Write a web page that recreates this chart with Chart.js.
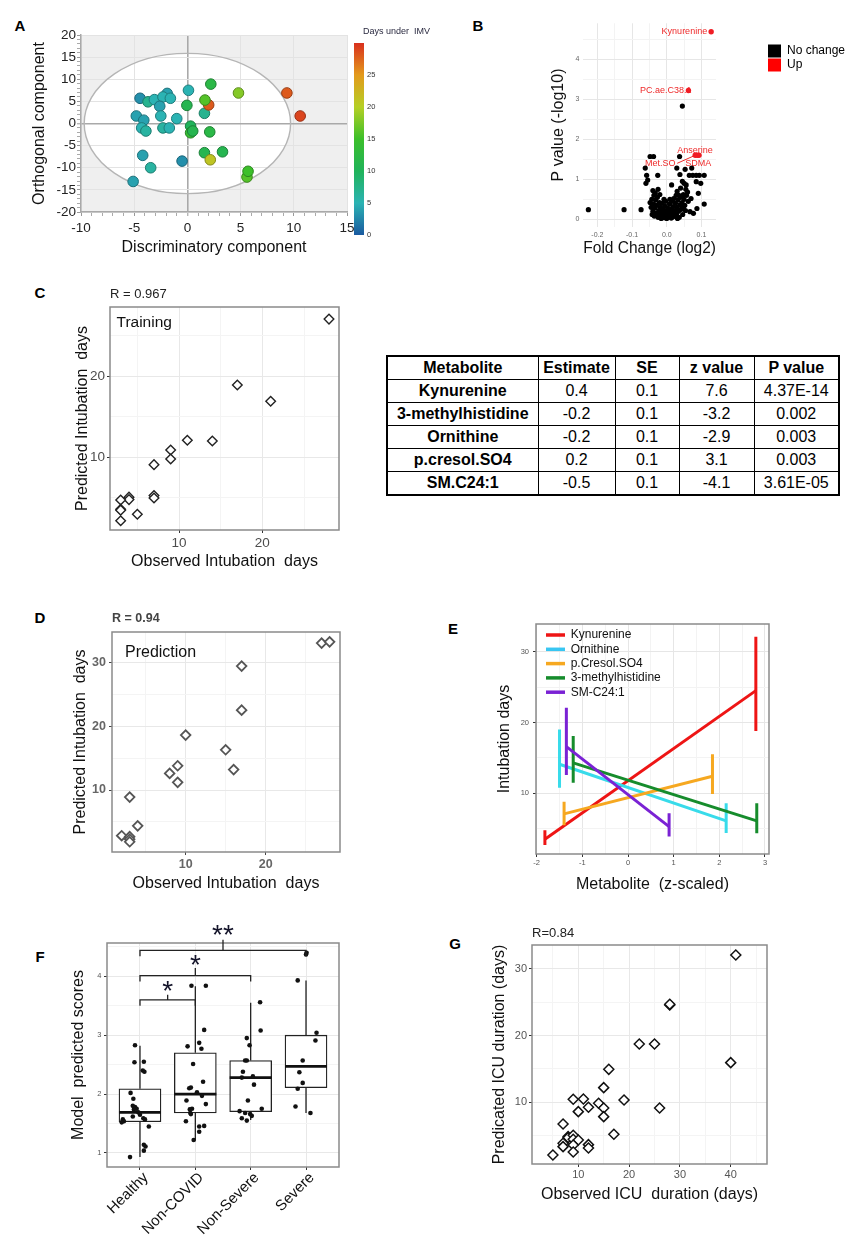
<!DOCTYPE html>
<html><head><meta charset="utf-8">
<script src="https://cdn.jsdelivr.net/npm/chart.js@4.4.1/dist/chart.umd.min.js"></script>
<style>
html,body{margin:0;padding:0;background:#fff}
body{position:relative;width:864px;height:1259px;overflow:hidden;font-family:"Liberation Sans",Arial,sans-serif}
canvas{position:absolute}
.pl{position:absolute;font-weight:bold;font-size:15px;line-height:1;transform:translate(-50%,-50%);color:#000}
#tbl{position:absolute;left:386px;top:355px;width:452px;height:136px;border-collapse:collapse;font-size:16px;color:#000;table-layout:fixed;border:2px solid #000}
#tbl td,#tbl th{border:1px solid #000;padding:0;text-align:center;height:22px;white-space:nowrap;line-height:1}
#tbl th{font-weight:bold}
#tbl td:first-child{font-weight:bold}
</style></head><body>
<div class="pl" style="left:20px;top:25px">A</div>
<div class="pl" style="left:478px;top:25px">B</div>
<div class="pl" style="left:40px;top:292px">C</div>
<div class="pl" style="left:40px;top:617px">D</div>
<div class="pl" style="left:453px;top:628px">E</div>
<div class="pl" style="left:40px;top:956px">F</div>
<div class="pl" style="left:455px;top:943px">G</div>
<table id="tbl"><colgroup><col style="width:151px"><col style="width:77px"><col style="width:64px"><col style="width:75px"><col style="width:85px"></colgroup><tbody id="tb"></tbody></table>
<script>
// ================= DATA =================
// A: OPLS-DA scores
const pcaX = [-4.45,-3.7,-3.1,-1.9,-2.3,-1.6,-2.6,-2.5,-1.0,-4.8,-4.1,-4.3,-3.9,-2.3,-1.7,-4.2,-3.45,-5.1,-0.5,0.1,-0.05,0.3,0.3,0.5,1.6,2.0,1.65,2.2,2.1,1.6,2.15,3.3,4.8,5.6,5.7,9.35,10.6];
const pcaY = [5.7,4.9,5.4,6.8,6.0,5.7,3.9,1.7,1.1,1.7,0.75,-1.0,-1.7,-1.0,-1.0,-7.2,-10.0,-13.1,-8.5,7.5,4.1,-0.6,-2.1,-1.7,2.3,4.2,5.3,8.9,-1.9,-6.6,-8.2,-6.4,6.9,-12.1,-10.8,6.9,1.7];
const pcaDays = [3,7,5,4,5,5,4,5,5,4,4,5,6,6,5,4,6,4,3,5,11,10,14,11,7,28,16,12,12,11,21,11,18,16,15,28,29];
const pcaEllipseA = 9.7, pcaEllipseB = 15.85;
const pcaXTicks = [-10,-5,0,5,10,15];
const pcaYTicks = [-20,-15,-10,-5,0,5,10,15,20];
const imvTicks = [0,5,10,15,20,25];
const imvMax = 30;

// B: volcano
const volNoX = [-0.226,-0.123,-0.074,-0.048,-0.038,0.037,-0.062,0.029,0.072,0.053,-0.058,-0.026,0.038,0.065,0.075,0.085,0.094,0.108,-0.055,-0.06,0.098,0.085,0.014,0.05,0.056,0.045,0.091,-0.04,-0.033,-0.037,-0.025,0.04,0.03,0.055,0.048,0.06,0.035,-0.02,0.108,0.087,0.067,0.077,0.062,0.07,0.045,
 -0.048,-0.045,-0.043,-0.04,-0.038,-0.036,-0.034,-0.032,-0.03,-0.028,-0.027,-0.025,-0.023,-0.021,-0.019,-0.018,-0.016,-0.015,-0.013,-0.012,-0.01,-0.008,-0.006,-0.005,-0.003,-0.001,0,0.002,0.003,0.005,0.007,0.008,0.01,0.012,0.013,0.015,0.016,0.018,0.02,0.021,0.023,0.025,0.027,0.028,0.03,0.032,0.034,0.036,0.038,0.04,0.042,0.044,0.046,0.048,0.05,0.052,0.054,0.057,-0.042,-0.02,0,0.009,-0.008,0.031,0.017,-0.003];
const volNoY = [0.24,0.24,0.24,1.57,1.57,1.57,1.28,1.28,1.28,1.25,1.1,1.1,1.12,1.1,1.1,1.1,1.1,1.1,0.98,0.9,0.9,0.94,0.86,0.9,0.86,0.95,0.65,0.72,0.66,0.6,0.75,0.78,0.7,0.75,0.62,0.68,0.6,0.62,0.38,0.27,0.19,0.15,0.45,0.52,2.83,
 0.42,0.3,0.5,0.2,0.38,0.08,0.28,0.48,0.15,0.35,0.55,0.05,0.22,0.42,0.12,0.3,0.02,0.18,0.4,0.08,0.26,0.14,0.04,0.33,0.1,0.2,0.02,0.12,0.28,0.06,0.18,0.38,0.1,0.25,0.03,0.45,0.15,0.32,0.52,0.08,0.22,0.4,0.6,0.12,0.3,0.48,0.2,0.05,0.36,0.55,0.25,0.42,0.12,0.3,0.5,0.35,0.22,0.6,0.12,0.06,0.16,0.5,0.5,0.02,0.06,0.45];
const volUpNames = ['Kynurenine','PC.ae.C38.1','Anserine','Met.SO','SDMA'];
const volUpX = [0.128,0.0625,0.093,0.082,0.088];
const volUpY = [4.69,3.22,1.60,1.60,1.60];
const volXTicks = [-0.2,-0.1,0,0.1];
const volYTicks = [0,1,2,3,4];
const volLegend = ['No change','Up'];

// C: training
const trainObs = [28,17,21,11,14,9,9,7,7,7,5,4,4,3,3,3,3];
const trainPred = [27.0,18.9,16.9,12.1,12.0,10.9,9.8,9.1,5.3,5.0,3.0,5.1,4.8,4.75,3.6,3.5,2.2];
const trainTicks = [10,20];

// Table
const tableHead = ['Metabolite','Estimate','SE','z value','P value'];
const tableMetab = ['Kynurenine','3-methylhistidine','Ornithine','p.cresol.SO4','SM.C24:1'];
const tableEst = ['0.4','-0.2','-0.2','0.2','-0.5'];
const tableSE = ['0.1','0.1','0.1','0.1','0.1'];
const tableZ = ['7.6','-3.2','-2.9','3.1','-4.1'];
const tableP = ['4.37E-14','0.002','0.003','0.003','3.61E-05'];

// D: prediction
const predObs = [27,28,17,17,10,15,16,9,8,9,3,4,2,3,3,3];
const predPred = [33.0,33.2,29.4,22.5,18.6,16.3,13.2,13.8,12.6,11.2,8.9,4.4,2.85,2.7,2.3,1.9];
const predXTicks = [10,20];
const predYTicks = [10,20,30];

// E: effects
const eNames = ['Kynurenine','Ornithine','p.Cresol.SO4','3-methylhistidine','SM-C24:1'];
const eX0 = [-1.82,-1.5,-1.4,-1.2,-1.35];
const eX1 = [2.8,2.15,1.85,2.82,0.9];
const eY0 = [3.5,14.1,7.1,14.3,16.6];
const eY1 = [24.5,6.1,12.4,6.1,5.3];
const eLo0 = [2.7,10.8,5.5,11.5,12.6];
const eHi0 = [4.8,19.0,8.8,18.1,22.1];
const eLo1 = [18.8,4.4,9.9,4.35,3.9];
const eHi1 = [32.1,8.6,15.5,8.6,7.2];
const eXTicks = [-2,-1,0,1,2,3];
const eYTicks = [10,20,30];

// F: boxplots
const fCats = ['Healthy','Non-COVID','Non-Severe','Severe'];
const fQ1 = [1.53,1.68,1.70,2.11];
const fMed = [1.69,2.00,2.28,2.47];
const fQ3 = [2.09,2.70,2.57,3.00];
const fLo = [0.93,1.21,1.56,1.68];
const fHi = [2.82,3.83,3.55,3.93];
const fJitHealthy = [-0.09,-0.10,0.07,0.05,0.08,-0.17,-0.12,-0.13,-0.09,-0.06,-0.11,-0.03,0.0,-0.31,-0.29,-0.33,-0.13,0.06,0.09,0.16,0.07,0.10,0.07,-0.18];
const fValHealthy = [2.83,2.54,2.55,2.40,2.38,2.02,1.92,1.80,1.78,1.75,1.74,1.69,1.65,1.57,1.54,1.52,1.62,1.59,1.57,1.45,1.14,1.11,1.04,0.93];
const fJitNonCovid = [-0.07,0.19,0.16,0.07,0.11,-0.14,-0.04,0.14,-0.11,-0.08,0.03,0.12,-0.16,0.19,-0.10,-0.06,-0.09,-0.08,-0.17,0.07,0.16,0.07,-0.03];
const fValNonCovid = [3.84,3.84,3.09,2.87,2.77,2.81,2.51,2.21,2.10,2.11,2.03,1.97,1.89,1.83,1.74,1.75,1.68,1.66,1.54,1.45,1.46,1.36,1.22];
const fJitNonSevere = [0.17,0.18,-0.07,-0.02,-0.10,-0.07,-0.14,0.04,-0.16,0.06,-0.05,0.20,-0.20,-0.10,-0.01,0.02,-0.16,-0.07];
const fValNonSevere = [3.56,3.08,2.95,2.83,2.57,2.57,2.38,2.30,2.28,2.16,1.89,1.75,1.71,1.68,1.66,1.63,1.59,1.55];
const fJitSevere = [0.01,0.0,-0.15,0.19,0.17,-0.06,-0.12,-0.06,-0.15,-0.19,0.08];
const fValSevere = [4.40,4.37,3.93,3.04,2.91,2.57,2.37,2.19,2.09,1.79,1.68];
const fBrFrom = [0,0,0];
const fBrTo = [1,2,3];
const fBrY = [3.60,4.01,4.44];
const fBrLabel = ['*','*','**'];
const fYTicks = [1,2,3,4];

// G: ICU duration
const gObs = [41,28,28,22,25,40,16,15,19,9,11,14,12,15,26,10,15,7,17,8,8,9,9,10,7,7,9,12,12,9,5];
const gPred = [32.1,24.6,24.7,18.75,18.75,15.95,14.95,12.2,10.35,10.45,10.5,9.85,9.25,9.15,9.15,8.6,7.85,6.75,5.2,4.85,4.7,5.05,4.45,4.35,3.85,3.35,3.6,3.65,3.15,2.55,2.1];
const gXTicks = [10,20,30,40];
const gYTicks = [10,20,30];

// ================= HELPERS =================
const FONT = '"Liberation Sans", Arial, Helvetica, sans-serif';
Chart.defaults.font.family = FONT;
Chart.defaults.color = '#333';
const f = (size, w) => `${w||'normal'} ${size}px ${FONT}`;

function place(rect){
  const c = document.createElement('canvas');
  c.width = rect.w; c.height = rect.h;
  Object.assign(c.style,{left:rect.x+'px',top:rect.y+'px',width:rect.w+'px',height:rect.h+'px'});
  document.body.appendChild(c); return c;
}
function mkScale(axis, rect, area, s){
  const isX = axis === 'x';
  const lh = (s.titleSize||16)*1.2;
  const majors = s.majors, minors = s.minors||[];
  const all = majors.map(v=>({value:v,mn:false})).concat(minors.map(v=>({value:v,mn:true}))).sort((a,b)=>a.value-b.value);
  return {
    type:'linear', position: isX?'bottom':'left', min:s.min, max:s.max, offset:false,
    afterBuildTicks: sc => { sc.ticks = all.map(t=>({value:t.value, mn:t.mn})); },
    afterFit: sc => {
      if (isX) { sc.height = rect.y+rect.h-area.b; sc.paddingLeft=0; sc.paddingRight=0; }
      else { sc.width = area.l-rect.x; sc.paddingTop=0; sc.paddingBottom=0; }
    },
    ticks:{ autoSkip:false, maxRotation:s.rot||0, minRotation:s.rot||0, padding:s.pad, labelOffset:s.labelOffset||0,
      font:{size:s.font, weight:s.fontWeight||'normal'}, color:s.color,
      callback:(v,i,t)=> (t[i]&&t[i].mn) ? '' : (s.labels ? s.labels[majors.indexOf(v)] : (s.fmt ? s.fmt(v) : String(v))) },
    grid:{ offset:false, drawOnChartArea:true, drawTicks:true, tickLength:s.tickLen,
      color: c => { const t=c.tick; if(!t) return s.grid; if(t.mn) return s.gridMinor; if(s.zero && t.value===0) return s.zero; return s.grid; },
      lineWidth: c => (s.zero && c.tick && !c.tick.mn && c.tick.value===0) ? 1.6 : 1,
      tickColor: c => (c.tick && c.tick.mn) ? (s.minorTick||'rgba(0,0,0,0)') : (s.tick||'rgba(0,0,0,0)'),
      tickWidth:1 },
    border:{ display:!!s.border, color:s.border||'#000', width:1.5 },
    title: s.title ? { display:true, text:s.title, font:{size:s.titleSize||16}, color:'#111',
      padding: isX ? {top:0,bottom:rect.y+rect.h-s.titleAt-lh/2} : {top:s.titleAt-rect.x-lh/2,bottom:0} } : {display:false}
  };
}
function mkChart(rect, area, cfg){
  const cv = place(rect);
  cfg.options = cfg.options||{};
  Object.assign(cfg.options,{responsive:false, maintainAspectRatio:false, animation:false, events:[],
    layout:{padding:{left:0, top:area.t-rect.y, right:rect.x+rect.w-area.r, bottom:0}}});
  cfg.options.plugins = Object.assign({legend:{display:false}, tooltip:{enabled:false}}, cfg.options.plugins||{});
  return new Chart(cv, cfg);
}
const framePlugin = (color,w) => ({id:'frame', afterDatasetsDraw(ch){ const a=ch.chartArea,x=ch.ctx; x.save(); x.strokeStyle=color; x.lineWidth=w; x.strokeRect(a.left,a.top,a.right-a.left,a.bottom-a.top); x.restore(); }});
const textPlugin = (rect, items) => ({id:'texts', afterDraw(ch){ const x=ch.ctx; items.forEach(it=>{ x.save(); x.font=it.font; x.fillStyle=it.color||'#111'; x.textAlign=it.align||'left'; x.textBaseline=it.base||'middle'; x.fillText(it.text,it.x-rect.x,it.y-rect.y); x.restore(); }); }});
const pts = (xs, ys) => xs.map((x,i)=>({x, y:ys[i]}));

// colour map for days under IMV
const cmapStops = [[0,[26,90,160]],[5,[43,179,179]],[10,[32,179,90]],[15,[60,191,42]],[20,[181,207,37]],[25,[227,154,28]],[30,[217,48,30]]];
function cmap(d){ const s=cmapStops; for(let i=0;i<s.length-1;i++){ if(d<=s[i+1][0]){ const t=(d-s[i][0])/(s[i+1][0]-s[i][0]); return s[i][1].map((v,k)=>Math.round(v+(s[i+1][1][k]-v)*t)); } } return s[s.length-1][1]; }
const rgb = (c,k) => { k=k||1; return `rgb(${Math.round(c[0]*k)},${Math.round(c[1]*k)},${Math.round(c[2]*k)})`; };

// ================= TABLE =================
(function(){
  const tb = document.getElementById('tb');
  let h = '<tr>'+tableHead.map(t=>`<th>${t}</th>`).join('')+'</tr>';
  tableMetab.forEach((m,i)=>{ h += `<tr><td>${m}</td><td>${tableEst[i]}</td><td>${tableSE[i]}</td><td>${tableZ[i]}</td><td>${tableP[i]}</td></tr>`; });
  tb.innerHTML = h;
})();

// ================= PANEL A =================
(function(){
  const r={x:0,y:0,w:440,h:262}, a={l:81,t:35,r:347,b:212};
  const cols = pcaDays.map(cmap);
  const xMinor=[], yMinor=[];
  for(let v=-10; v<=15; v++) if(v%5) xMinor.push(v);
  for(let v=-20; v<=20; v++) if(v%5) yMinor.push(v);
  mkChart(r,a,{type:'scatter',
    data:{datasets:[{data:pts(pcaX,pcaY), backgroundColor:cols.map(c=>rgb(c)), borderColor:cols.map(c=>rgb(c,0.7)), borderWidth:1, pointRadius:5.3}]},
    options:{scales:{
      x: mkScale('x',r,a,{min:-10,max:15,majors:pcaXTicks,minors:xMinor,font:13.5,color:'#222',pad:4,tickLen:4,grid:'#e3e3e3',gridMinor:'rgba(0,0,0,0)',zero:'#a9a9a9',tick:'#999',minorTick:'#aaa',border:'#a9a9a9',title:'Discriminatory component',titleSize:16,titleAt:248}),
      y: mkScale('y',r,a,{min:-20,max:20,majors:pcaYTicks,minors:yMinor,font:13.5,color:'#222',pad:1,tickLen:4,grid:'#e3e3e3',gridMinor:'rgba(0,0,0,0)',zero:'#a9a9a9',tick:'#999',minorTick:'#aaa',border:'#a9a9a9',title:'Orthogonal component',titleSize:16,titleAt:40})
    }},
    plugins:[{id:'pcabg',
      beforeDraw(ch){ const {ctx,chartArea:ca,scales:{x,y}}=ch; ctx.save(); ctx.fillStyle='#efefef'; ctx.fillRect(ca.left,ca.top,ca.right-ca.left,ca.bottom-ca.top);
        const cx=x.getPixelForValue(0), cy=y.getPixelForValue(0); const rx=Math.abs(x.getPixelForValue(pcaEllipseA)-cx), ry=Math.abs(y.getPixelForValue(pcaEllipseB)-cy);
        ctx.beginPath(); ctx.ellipse(cx,cy,rx,ry,0,0,2*Math.PI); ctx.fillStyle='#fff'; ctx.fill(); ctx.restore(); },
      beforeDatasetsDraw(ch){ const {ctx,scales:{x,y}}=ch; const cx=x.getPixelForValue(0), cy=y.getPixelForValue(0); const rx=Math.abs(x.getPixelForValue(pcaEllipseA)-cx), ry=Math.abs(y.getPixelForValue(pcaEllipseB)-cy);
        ctx.save(); ctx.beginPath(); ctx.ellipse(cx,cy,rx,ry,0,0,2*Math.PI); ctx.strokeStyle='#b5b5b5'; ctx.lineWidth=1.4; ctx.stroke(); ctx.restore(); },
      afterDraw(ch){ const ctx=ch.ctx; const y0=235, y1=43, x0=354, w=10; const py=v=>y0+(y1-y0)*v/imvMax;
        const g=ctx.createLinearGradient(0,y0,0,y1); cmapStops.forEach(s=>g.addColorStop(s[0]/imvMax, rgb(s[1])));
        ctx.save(); ctx.fillStyle=g; ctx.fillRect(x0,y1,w,y0-y1);
        ctx.fillStyle='#333'; ctx.font=f(7.5); ctx.textBaseline='middle'; ctx.textAlign='left';
        imvTicks.forEach(v=>ctx.fillText(String(v),x0+w+3,py(v)));
        ctx.font=f(9); ctx.fillStyle='#2a2a40'; ctx.fillText('Days under  IMV',363,32); ctx.restore(); }
    }]
  });
})();

// ================= PANEL B =================
(function(){
  const r={x:480,y:0,w:384,h:262}, a={l:583.3,t:23.3,r:716,b:226.7};
  const labStyle = [{dx:-4,dy:0,align:'right'},{dx:3,dy:0,align:'right'},{dx:-4,dy:-4.6,align:'center'},{dx:-35,dy:8,align:'center'},{dx:1,dy:8,align:'center'}];
  mkChart(r,a,{type:'scatter',
    data:{datasets:[
      {data:pts(volUpX,volUpY), backgroundColor:'#f01c24', borderWidth:0, pointRadius:2.7, order:0},
      {data:pts(volNoX,volNoY), backgroundColor:'#000', borderWidth:0, pointRadius:2.6, order:1}]},
    options:{scales:{
      x: mkScale('x',r,a,{min:-0.2406,max:0.142,majors:volXTicks,minors:[-0.15,-0.05,0.05],fmt:v=>v.toFixed(1),font:7,color:'#666',pad:2,tickLen:2,grid:'#e6e6e6',gridMinor:'#f3f3f3',title:'Fold Change (log2)',titleSize:16,titleAt:249}),
      y: mkScale('y',r,a,{min:-0.185,max:4.9,majors:volYTicks,minors:[0.5,1.5,2.5,3.5,4.5],font:7,color:'#666',pad:2,tickLen:2,grid:'#e6e6e6',gridMinor:'#f3f3f3',title:'P value (-log10)',titleSize:16,titleAt:559})
    }},
    plugins:[{id:'vol',
      beforeDatasetsDraw(ch){ const {ctx,scales:{x,y}}=ch; ctx.save(); ctx.font=f(9); ctx.fillStyle='#ee2a2a'; ctx.textBaseline='middle';
        volUpNames.forEach((n,i)=>{ const s=labStyle[i]; ctx.textAlign=s.align; ctx.fillText(n, x.getPixelForValue(volUpX[i])+s.dx, y.getPixelForValue(volUpY[i])+s.dy); });
        const px=x.getPixelForValue(volUpX[3]), py=y.getPixelForValue(volUpY[3]);
        ctx.strokeStyle='#ee2a2a'; ctx.lineWidth=1; ctx.beginPath(); ctx.moveTo(px-18,py+8); ctx.lineTo(px,py); ctx.stroke(); ctx.restore(); },
      afterDraw(ch){ const ctx=ch.ctx; ctx.save(); ctx.font=f(12); ctx.textBaseline='middle'; ctx.textAlign='left';
        [['#000',51],['#f00',65]].forEach((c,i)=>{ ctx.fillStyle=c[0]; ctx.fillRect(768-r.x,c[1]-6.5,13,13); ctx.fillStyle='#000'; ctx.fillText(volLegend[i],787-r.x,c[1]); });
        ctx.restore(); }
    }]
  });
})();

// ================= PANEL C =================
(function(){
  const r={x:0,y:282,w:380,h:298}, a={l:110,t:307,r:339,b:530};
  mkChart(r,a,{type:'scatter',
    data:{datasets:[{data:pts(trainObs,trainPred), pointStyle:'rectRot', pointRadius:4.8, backgroundColor:'#fff', borderColor:'#222', borderWidth:1.4}]},
    options:{scales:{
      x: mkScale('x',r,a,{min:1.72,max:29.2,majors:trainTicks,minors:[5,15,25],font:13.5,color:'#4d4d4d',pad:2,tickLen:3,grid:'#e8e8e8',gridMinor:'#f4f4f4',tick:'#333',title:'Observed Intubation  days',titleSize:16,titleAt:562}),
      y: mkScale('y',r,a,{min:1.06,max:28.49,majors:trainTicks,minors:[5,15,25],font:13.5,color:'#4d4d4d',pad:2,tickLen:3,grid:'#e8e8e8',gridMinor:'#f4f4f4',tick:'#333',title:'Predicted Intubation  days',titleSize:16,titleAt:83})
    }},
    plugins:[framePlugin('#8a8a8a',1.5), textPlugin(r,[{text:'R = 0.967',x:110,y:294,font:f(13),color:'#222'},{text:'Training',x:116.5,y:322.5,font:f(15.5),color:'#111'}])]
  });
})();

// ================= PANEL D =================
(function(){
  const r={x:0,y:598,w:380,h:302}, a={l:112,t:632,r:340,b:852};
  mkChart(r,a,{type:'scatter',
    data:{datasets:[{data:pts(predObs,predPred), pointStyle:'rectRot', pointRadius:4.8, backgroundColor:'#fff', borderColor:'#555', borderWidth:1.8}]},
    options:{scales:{
      x: mkScale('x',r,a,{min:0.79,max:29.3,majors:predXTicks,minors:[5,15,25],font:12.5,color:'#666',fontWeight:'bold',pad:2,tickLen:3,grid:'#e8e8e8',gridMinor:'#f4f4f4',tick:'#444',title:'Observed Intubation  days',titleSize:16,titleAt:884}),
      y: mkScale('y',r,a,{min:0.30,max:34.74,majors:predYTicks,minors:[5,15,25],font:12.5,color:'#666',fontWeight:'bold',pad:3,tickLen:3,grid:'#e8e8e8',gridMinor:'#f4f4f4',tick:'#444',title:'Predicted Intubation  days',titleSize:16,titleAt:81})
    }},
    plugins:[framePlugin('#8a8a8a',1.5), textPlugin(r,[{text:'R = 0.94',x:112,y:619,font:f(12.5,'bold'),color:'#444'},{text:'Prediction',x:125,y:652.5,font:f(16),color:'#111'}])]
  });
})();

// ================= PANEL E =================
(function(){
  const r={x:440,y:598,w:410,h:302}, a={l:536,t:624,r:769,b:854};
  const eColors = ['#ee1515','#38dbea','#f6a820','#168c2c','#7a22d4'];
  const legColors = ['#ee1515','#38c6f2','#f6a820','#168c2c','#7a22d4'];
  const ds = [];
  eNames.forEach((n,i)=>{
    ds.push({label:n, data:[{x:eX0[i],y:eY0[i]},{x:eX1[i],y:eY1[i]}], showLine:true, borderColor:eColors[i], borderWidth:3, pointRadius:0, order:20-2*i});
    ds.push({label:n+' CI', data:[{x:eX0[i],y:eLo0[i]},{x:eX0[i],y:eHi0[i]},{x:eX0[i],y:null},{x:eX1[i],y:eLo1[i]},{x:eX1[i],y:eHi1[i]}], showLine:true, spanGaps:false, borderColor:eColors[i], borderWidth:3, pointRadius:0, order:19-2*i});
  });
  mkChart(r,a,{type:'scatter', data:{datasets:ds},
    options:{scales:{
      x: mkScale('x',r,a,{min:-2.015,max:3.088,majors:eXTicks,minors:[-1.5,-0.5,0.5,1.5,2.5],font:7.5,color:'#555',pad:1,tickLen:3,grid:'#e6e6e6',gridMinor:'#f3f3f3',tick:'#333',title:'Metabolite  (z-scaled)',titleSize:16,titleAt:885}),
      y: mkScale('y',r,a,{min:1.43,max:33.91,majors:eYTicks,minors:[5,15,25],font:7.5,color:'#555',pad:4,tickLen:3,grid:'#e6e6e6',gridMinor:'#f3f3f3',tick:'#333',title:'Intubation days',titleSize:16,titleAt:505})
    }},
    plugins:[framePlugin('#8a8a8a',1.5), {id:'eleg', afterDraw(ch){ const c=ch.ctx; c.save(); c.font=f(12); c.textBaseline='middle'; c.textAlign='left';
      eNames.forEach((n,i)=>{ const y=635+i*14.3-r.y; c.strokeStyle=legColors[i]; c.lineWidth=3.5; c.beginPath(); c.moveTo(546-r.x,y); c.lineTo(565-r.x,y); c.stroke(); c.fillStyle='#111'; c.fillText(n,570.7-r.x,y); });
      c.restore(); }}]
  });
})();

// ================= PANEL F =================
(function(){
  const r={x:0,y:905,w:400,h:354}, a={l:107,t:943,r:339,b:1167};
  const xmin=-0.596, xmax=3.596;
  const halfW = 21/((a.r-a.l)/(xmax-xmin));
  const jit = [fJitHealthy,fJitNonCovid,fJitNonSevere,fJitSevere], val=[fValHealthy,fValNonCovid,fValNonSevere,fValSevere];
  const points=[]; jit.forEach((js,g)=>js.forEach((j,k)=>points.push({x:g+j,y:val[g][k]})));
  const whisk=[], meds=[];
  fCats.forEach((c,i)=>{ whisk.push({x:i,y:fQ3[i]},{x:i,y:fHi[i]},{x:i,y:null},{x:i,y:fQ1[i]},{x:i,y:fLo[i]},{x:i,y:null});
    meds.push({x:i-halfW,y:fMed[i]},{x:i+halfW,y:fMed[i]},{x:i,y:null}); });
  const tickPx=[5,7.7,10.7], starPx=[15,16,21];
  const ds=[
    {type:'bar', data:fCats.map((c,i)=>({x:i,y:[fQ1[i],fQ3[i]]})), backgroundColor:'#fff', borderColor:'#222', borderWidth:1.3, borderSkipped:false, barThickness:42, order:5},
    {type:'scatter', data:whisk, showLine:true, spanGaps:false, borderColor:'#222', borderWidth:1.3, pointRadius:0, order:4},
    {type:'scatter', data:meds, showLine:true, spanGaps:false, borderColor:'#111', borderWidth:2.6, pointRadius:0, order:3},
    {type:'scatter', data:points, backgroundColor:'#111', borderWidth:0, pointRadius:2.3, order:1}
  ];
  mkChart(r,a,{type:'scatter', data:{datasets:ds},
    options:{scales:{
      x: mkScale('x',r,a,{min:xmin,max:xmax,majors:[0,1,2,3],labels:fCats,rot:45,font:15,color:'#111',pad:-1,labelOffset:6,tickLen:3,grid:'#e8e8e8',gridMinor:'#f4f4f4',tick:'#333'}),
      y: mkScale('y',r,a,{min:0.762,max:4.565,majors:fYTicks,minors:[1.5,2.5,3.5,4.5],font:7.5,color:'#555',pad:2.5,tickLen:3,grid:'#e8e8e8',gridMinor:'#f4f4f4',tick:'#333',title:'Model  predicted scores',titleSize:16,titleAt:79})
    }},
    plugins:[framePlugin('#8a8a8a',1.5), {id:'brackets', afterDatasetsDraw(ch){ const {ctx,scales:{x,y}}=ch; ctx.save(); ctx.strokeStyle='#222'; ctx.lineWidth=1.3;
      fBrY.forEach((h,i)=>{ const x0=x.getPixelForValue(fBrFrom[i]), x1=x.getPixelForValue(fBrTo[i]), yy=y.getPixelForValue(h), yl=y.getPixelForValue(h-0.1), xc=(x0+x1)/2;
        ctx.beginPath(); ctx.moveTo(x0,yl); ctx.lineTo(x0,yy); ctx.lineTo(x1,yy); ctx.lineTo(x1,yl); ctx.moveTo(xc,yy); ctx.lineTo(xc,yy-tickPx[i]); ctx.stroke();
        ctx.fillStyle='#14142a'; ctx.font=f(28); ctx.textAlign='center'; ctx.textBaseline='middle'; ctx.fillText(fBrLabel[i], xc, yy-starPx[i]+7); });
      ctx.restore(); }}]
  });
})();

// ================= PANEL G =================
(function(){
  const r={x:440,y:905,w:410,h:354}, a={l:532,t:945,r:767,b:1164};
  mkChart(r,a,{type:'scatter',
    data:{datasets:[{data:pts(gObs,gPred), pointStyle:'rectRot', pointRadius:5, backgroundColor:'#fff', borderColor:'#111', borderWidth:1.5}]},
    options:{scales:{
      x: mkScale('x',r,a,{min:0.886,max:47.14,majors:gXTicks,minors:[5,15,25,35,45],font:11,color:'#555',pad:1.5,tickLen:3,grid:'#e8e8e8',gridMinor:'#f4f4f4',tick:'#333',title:'Observed ICU  duration (days)',titleSize:16,titleAt:1195}),
      y: mkScale('y',r,a,{min:0.745,max:33.6,majors:gYTicks,minors:[5,15,25],font:11,color:'#555',pad:2,tickLen:3,grid:'#e8e8e8',gridMinor:'#f4f4f4',tick:'#333',title:'Predicated ICU duration (days)',titleSize:16,titleAt:500})
    }},
    plugins:[framePlugin('#8a8a8a',1.5), textPlugin(r,[{text:'R=0.84',x:532,y:933,font:f(13),color:'#222'}])]
  });
})();
</script>
</body></html>
